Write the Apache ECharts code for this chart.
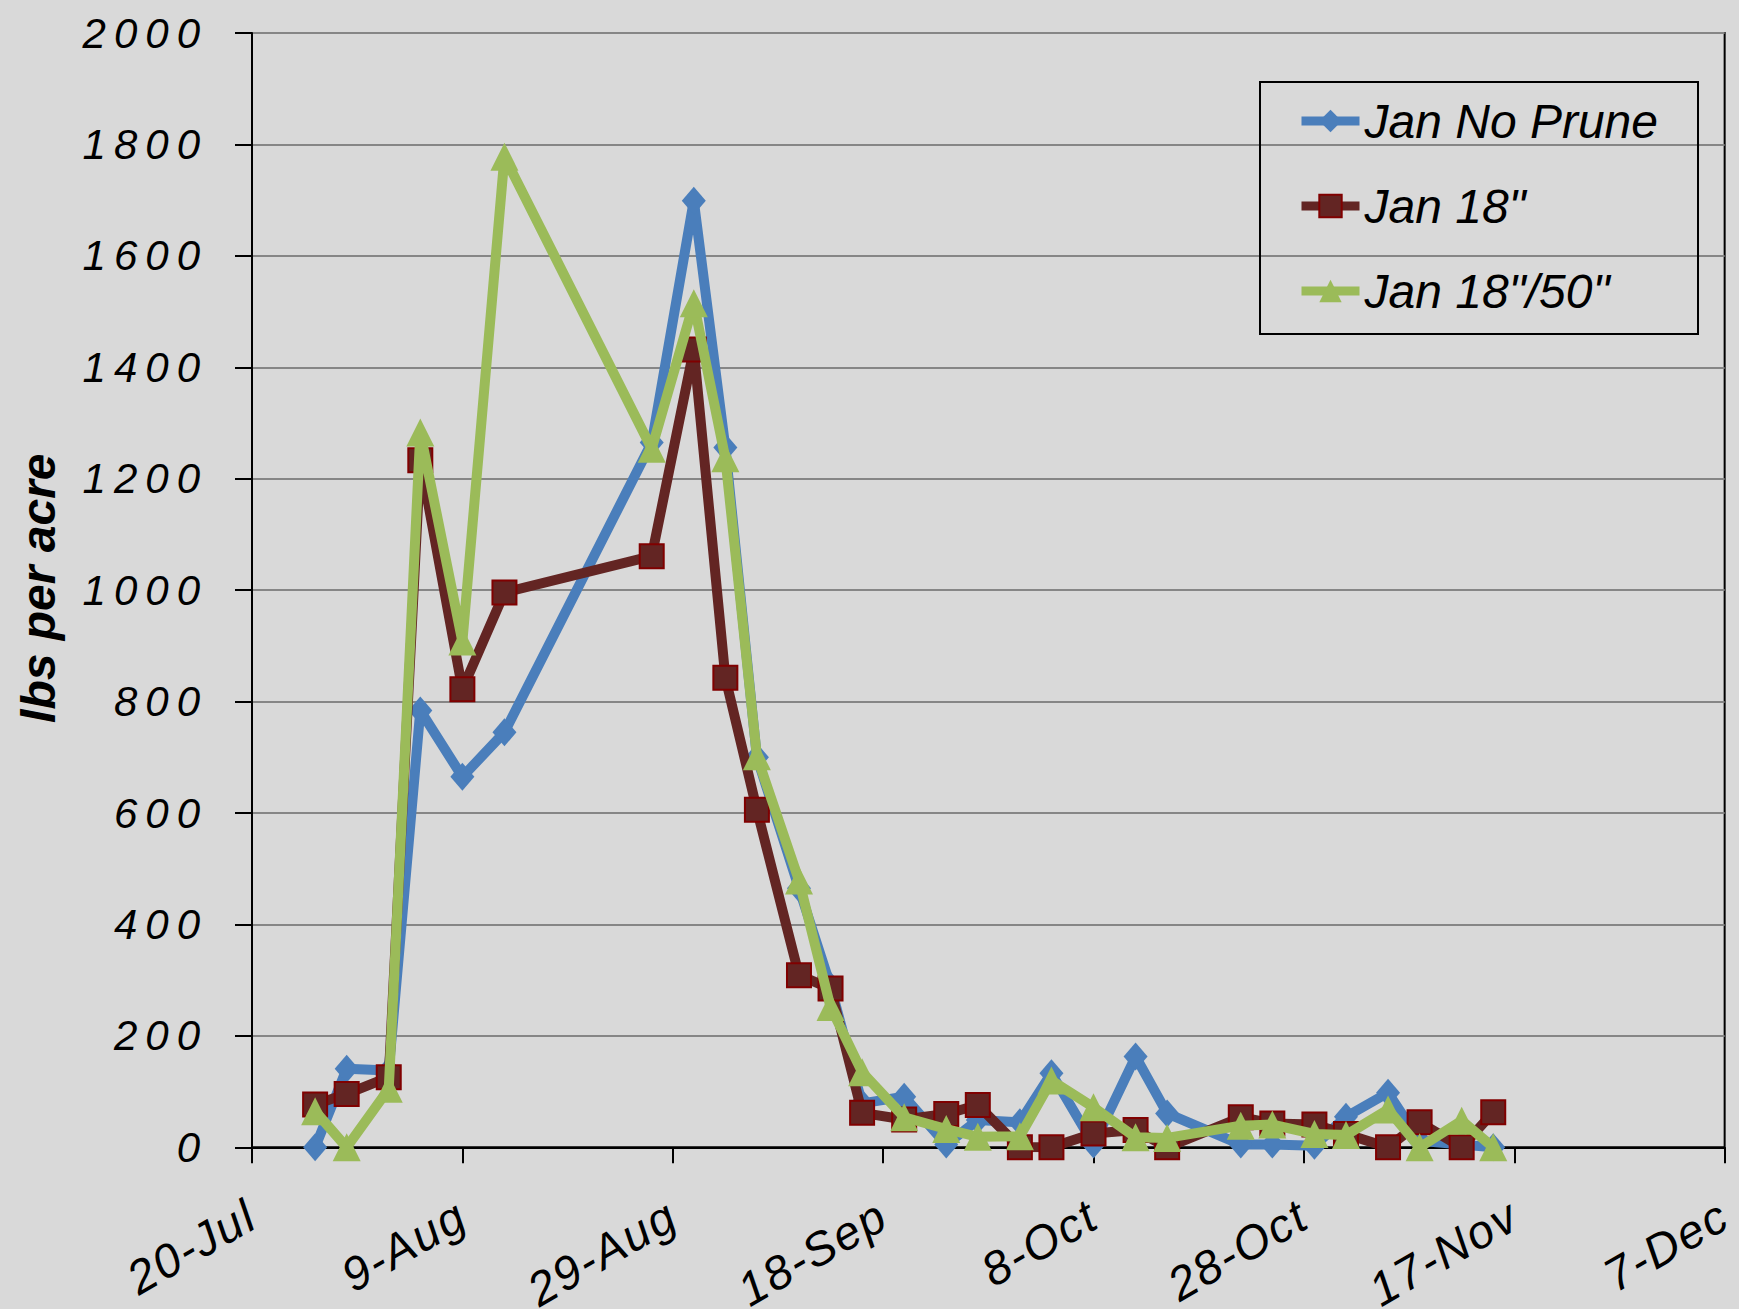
<!DOCTYPE html>
<html>
<head>
<meta charset="utf-8">
<script src="https://cdn.jsdelivr.net/npm/echarts@6/dist/echarts.min.js"></script>
<style>
html, body { margin: 0; padding: 0; background: #D9D9D9; }
#chart { width: 1739px; height: 1309px; }
#chart text[style*="42px"], #chart text[font-size="42"], #chart text[font-size="42px"] { letter-spacing: 8px; }
#chart text[style*="47px"], #chart text[font-size="47"], #chart text[font-size="47px"] { letter-spacing: 2px; }
</style>
</head>
<body>
<div id="chart"></div>
<script>
// ---- data ----
const startDate = '2009-07-20';
const xTickLabels = ['20-Jul', '9-Aug', '29-Aug', '18-Sep', '8-Oct', '28-Oct', '17-Nov', '7-Dec'];
const sampleDates = [
  '2009-07-26', '2009-07-29', '2009-08-02', '2009-08-05', '2009-08-09', '2009-08-13',
  '2009-08-27', '2009-08-31', '2009-09-03', '2009-09-06', '2009-09-10', '2009-09-13',
  '2009-09-16', '2009-09-20', '2009-09-24', '2009-09-27', '2009-10-01', '2009-10-04',
  '2009-10-08', '2009-10-12', '2009-10-15', '2009-10-22', '2009-10-25', '2009-10-29',
  '2009-11-01', '2009-11-05', '2009-11-08', '2009-11-12', '2009-11-15'
];
const janNoPrune = [0, 141, 138, 784, 665, 745, 1265, 1699, 1256, 700, 465, 290,
  79, 91, 5, 49, 45, 133, 5, 163, 61, 5, 5, 3, 55, 98, 12, 5, 0];
const jan18 = [77, 96, 126, 1233, 822, 996, 1061, 1432, 843, 606, 309, 285,
  62, 50, 60, 76, 0, 0, 25, 31, 0, 54, 43, 41, 24, 0, 45, 0, 63];
const jan18_50 = [65, 0, 105, 1283, 908, 1778, 1254, 1515, 1237, 702, 479, 252,
  135, 54, 33, 19, 20, 120, 72, 18, 17, 39, 41, 24, 22, 68, 0, 48, 0];
const seriesNames = ['Jan No Prune', 'Jan 18"', 'Jan 18"/50"'];
const yAxisName = 'lbs per acre';

// ---- build ----
const DAY = 86400000;
const dayOffset = d => Math.round((Date.parse(d) - Date.parse(startDate)) / DAY);
const toPoints = vals => sampleDates.map((d, i) => [dayOffset(d), vals[i]]);

const chart = echarts.init(document.getElementById('chart'), null, { renderer: 'svg' });
const font = '"Liberation Sans", Arial, sans-serif';

chart.setOption({
  backgroundColor: '#D9D9D9',
  animation: false,
  grid: {
    left: 252, right: 12, top: 33, bottom: 160,
    show: true, borderColor: '#000', borderWidth: 2, backgroundColor: 'transparent'
  },
  legend: {
    orient: 'vertical',
    left: 1260, top: 82,
    borderColor: '#000', borderWidth: 2,
    padding: [14, 40, 18, 37],
    itemGap: 35,
    itemWidth: 58, itemHeight: 28,
    lineStyle: { width: 9 },
    textStyle: { fontSize: 48, fontStyle: 'italic', color: '#000', fontFamily: font, lineHeight: 50 },
    data: seriesNames
  },
  xAxis: {
    type: 'value',
    min: 0, max: 140, interval: 20,
    axisLine: { show: true, lineStyle: { color: '#000', width: 2 } },
    axisTick: { show: true, length: 16, lineStyle: { color: '#000', width: 2 } },
    splitLine: { show: false },
    axisLabel: {
      rotate: 30, margin: 64, fontSize: 47, fontStyle: 'italic', color: '#000', fontFamily: font,
      showMinLabel: true, showMaxLabel: true,
      formatter: v => xTickLabels[Math.round(v / 20)]
    }
  },
  yAxis: {
    type: 'value',
    min: 0, max: 2000, interval: 200,
    name: yAxisName,
    nameLocation: 'middle',
    nameGap: 190,
    nameRotate: 90,
    nameTextStyle: { fontSize: 48, fontWeight: 'bold', fontStyle: 'italic', color: '#000', fontFamily: font, padding: [0, 0, 0, 4] },
    axisLine: { show: true, lineStyle: { color: '#000', width: 2 } },
    axisTick: { show: true, length: 17, lineStyle: { color: '#000', width: 2 } },
    splitLine: { show: true, lineStyle: { color: '#868686', width: 2 } },
    axisLabel: { margin: 44, fontSize: 42, fontStyle: 'italic', color: '#000', fontFamily: font, formatter: v => String(v) }
  },
  series: [
    {
      name: seriesNames[0], type: 'line', data: toPoints(janNoPrune),
      symbol: 'diamond', symbolSize: [24, 28],
      lineStyle: { color: '#4A7EBB', width: 10 },
      itemStyle: { color: '#4A7EBB' }, z: 2
    },
    {
      name: seriesNames[1], type: 'line', data: toPoints(jan18),
      symbol: 'rect', symbolSize: 24,
      lineStyle: { color: '#632523', width: 10 },
      itemStyle: { color: '#632523', borderColor: '#800000', borderWidth: 2 }, z: 3
    },
    {
      name: seriesNames[2], type: 'line', data: toPoints(jan18_50),
      symbol: 'triangle', symbolSize: 28,
      lineStyle: { color: '#9BBB59', width: 10 },
      itemStyle: { color: '#9BBB59' }, z: 4
    }
  ]
});
</script>
</body>
</html>
